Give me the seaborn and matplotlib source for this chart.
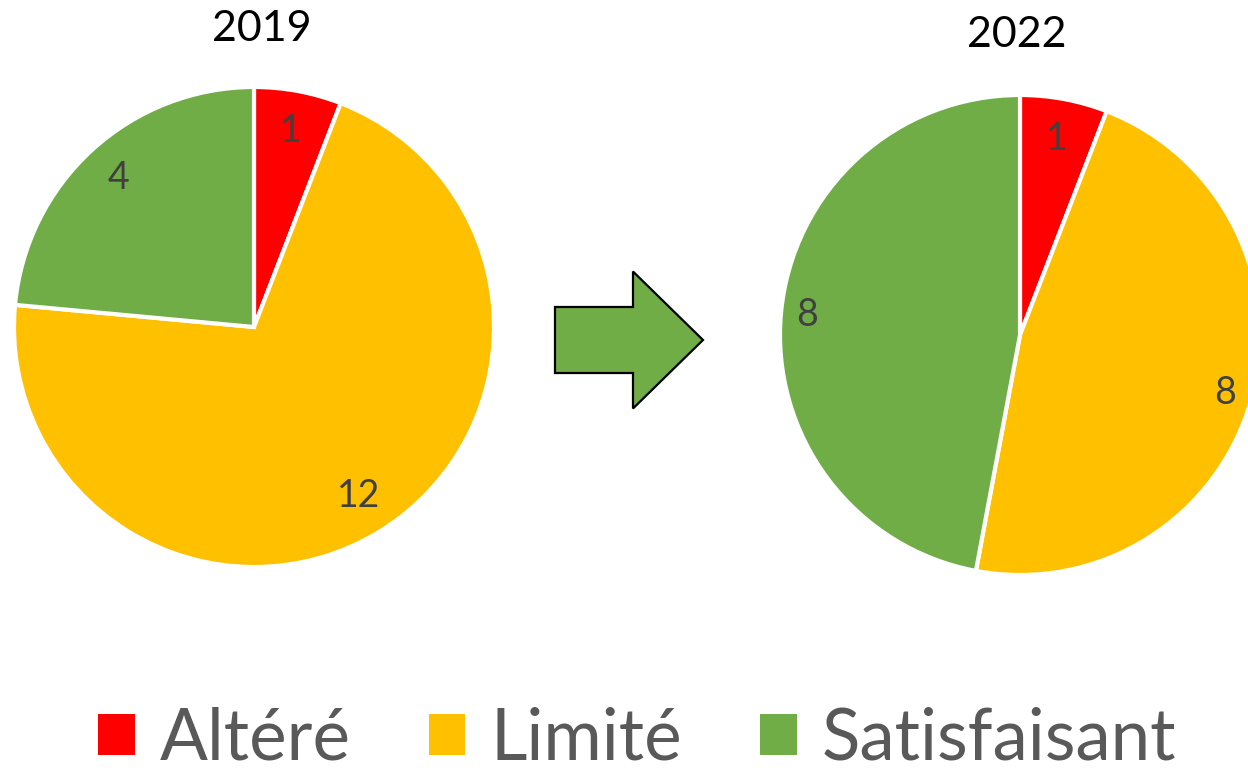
import numpy as np
import matplotlib
matplotlib.use('Agg')
import matplotlib.pyplot as plt
import seaborn as sns
from matplotlib.patches import Patch, FancyArrow

sns.set_style('white')
plt.rcParams['font.family'] = ['Lato', 'DejaVu Sans']

# data
categories = ['Altéré', 'Limité', 'Satisfaisant']
years = ['2019', '2022']
counts_2019 = [1, 12, 4]
counts_2022 = [1, 8, 8]
colors = ['#FF0000', '#FFC000', '#70AD47']

W, H = 1248, 772
fig = plt.figure(figsize=(W / 100, H / 100), dpi=100)


def px_axes(cx, cy, r):
    # axes box (in figure fraction) for a pie of radius r px centred at (cx, cy) px
    return fig.add_axes([(cx - r) / W, (H - cy - r) / H, 2 * r / W, 2 * r / H])


def draw_pie(ax, values, label_dist):
    wedges, _ = ax.pie(values, colors=colors, startangle=90, counterclock=False,
                       wedgeprops=dict(edgecolor='white', linewidth=3))
    for w in wedges:
        w.set_clip_on(False)
    ax.set_xlim(-1, 1)
    ax.set_ylim(-1, 1)
    for w, v, d in zip(wedges, values, label_dist):
        mid = np.deg2rad((w.theta1 + w.theta2) / 2)
        ax.text(d * np.cos(mid), d * np.sin(mid), str(v), ha='center', va='center',
                fontsize=27, color='#404040')


ax1 = px_axes(254, 327, 240)
draw_pie(ax1, counts_2019, [0.83, 0.83, 0.84])
ax2 = px_axes(1020, 335, 240)
draw_pie(ax2, counts_2022, [0.83, 0.89, 0.89])

fig.text(262 / W, 1 - 29 / H, years[0], ha='center', va='center', fontsize=31, color='black')
fig.text(1017 / W, 1 - 35 / H, years[1], ha='center', va='center', fontsize=31, color='black')

# arrow between the two pies
ov = fig.add_axes([0, 0, 1, 1], zorder=-1)
ov.set_xlim(0, W)
ov.set_ylim(H, 0)
ov.axis('off')
ov.add_patch(FancyArrow(555, 340, 78, 0, width=66, head_width=137, head_length=70,
                        length_includes_head=False, facecolor='#70AD47',
                        edgecolor='black', linewidth=1.6, joinstyle='miter'))

handles = [Patch(facecolor=c, edgecolor='none') for c in colors]
leg = fig.legend(handles, categories, loc='center', bbox_to_anchor=(637 / W, 1 - 739 / H),
                 ncol=3, frameon=False, fontsize=51, handlelength=0.52, handleheight=0.52,
                 handletextpad=0.35, columnspacing=1.1)
for t in leg.get_texts():
    t.set_color('#595959')

plt.savefig('out.png', dpi=100)
